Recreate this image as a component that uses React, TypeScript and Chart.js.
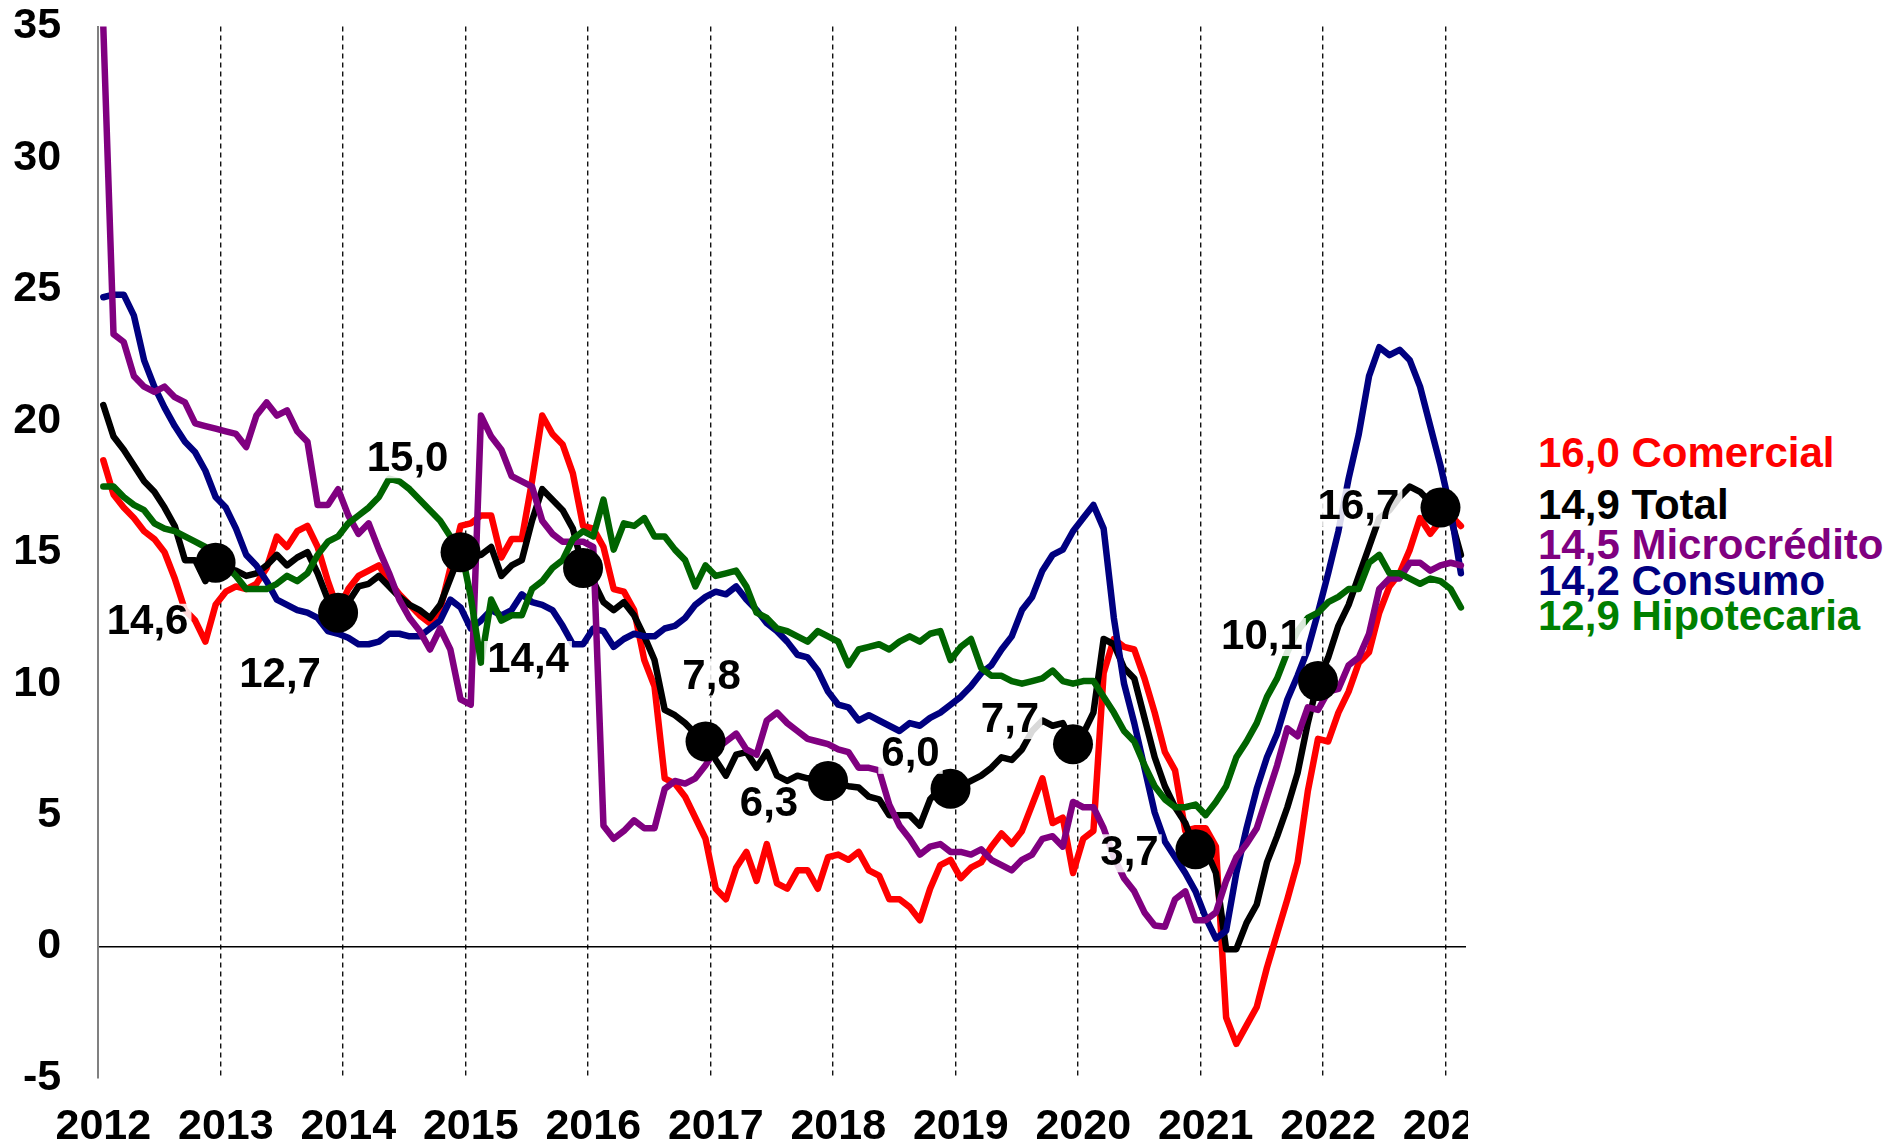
import React, { useEffect, useRef } from "react";
import { Chart, registerables } from "chart.js";

Chart.register(...registerables);

// ---- data -------------------------------------------------------------
const years = [2012, 2013, 2014, 2015, 2016, 2017, 2018, 2019, 2020, 2021, 2022, 2023];
const monthsShown = 134; // Jan 2012 .. Feb 2023

const categories: string[] = [];
years.forEach((y) => {
  for (let m = 1; m <= 12; m++) categories.push(`${y}-${m < 10 ? "0" + m : m}`);
});
categories.length = monthsShown;

const yTicks = [-5, 0, 5, 10, 15, 20, 25, 30, 35];

const comercial = [
  18.5, 17.2, 16.7, 16.3, 15.8, 15.5, 15.0, 14.0, 12.8, 12.4, 11.6, 13.0,
  13.5, 13.7, 13.6, 13.8, 14.4, 15.6, 15.2, 15.8, 16.0, 15.2, 13.9, 12.8,
  13.6, 14.1, 14.3, 14.5, 13.9, 13.4, 13.0, 12.6, 12.3, 12.8, 14.4, 16.0,
  16.1, 16.4, 16.4, 14.8, 15.5, 15.5, 17.7, 20.2, 19.5, 19.1, 18.0, 16.0,
  15.9, 15.2, 13.6, 13.5, 12.8, 10.9, 9.9, 6.4, 6.2, 5.7, 4.9, 4.1,
  2.2, 1.8, 3.0, 3.6, 2.5, 3.9, 2.4, 2.2, 2.9, 2.9, 2.2, 3.4,
  3.5, 3.3, 3.6, 2.9, 2.7, 1.8, 1.8, 1.5, 1.0, 2.2, 3.1, 3.3,
  2.6, 3.0, 3.2, 3.8, 4.3, 3.9, 4.4, 5.4, 6.4, 4.7, 4.9, 2.8,
  4.1, 4.4, 10.4, 11.7, 11.4, 11.3, 10.2, 8.9, 7.4, 6.7, 4.4, 4.5,
  4.5, 3.8, -2.7, -3.7, -3.0, -2.3, -0.8, 0.5, 1.8, 3.2, 5.9, 7.9,
  7.8, 8.9, 9.7, 10.8, 11.2, 12.7, 13.7, 14.2, 15.1, 16.3, 15.7, 16.2,
  16.4, 16.0,
];

const total = [
  20.6, 19.4, 18.9, 18.3, 17.7, 17.3, 16.7, 16.0, 14.7, 14.7, 13.9, 14.6,
  14.4, 14.3, 14.1, 14.2, 14.5, 14.9, 14.5, 14.8, 15.0, 14.2, 13.2, 12.7,
  13.1, 13.7, 13.8, 14.1, 13.7, 13.3, 13.0, 12.8, 12.5, 13.0, 14.0, 15.0,
  14.8, 14.9, 15.2, 14.1, 14.5, 14.7, 16.2, 17.4, 17.0, 16.6, 15.9, 14.4,
  13.9, 13.1, 12.8, 13.1, 12.6, 11.8, 10.9, 9.0, 8.8, 8.5, 8.1, 7.8,
  7.1, 6.5, 7.3, 7.4, 6.8, 7.4, 6.5, 6.3, 6.5, 6.4, 6.4, 6.3,
  6.2, 6.1, 6.05, 5.7, 5.6, 5.0, 5.0, 5.0, 4.6, 5.6, 6.0, 6.0,
  6.1, 6.3, 6.5, 6.8, 7.2, 7.1, 7.5, 8.2, 8.6, 8.4, 8.5, 7.7,
  8.1, 8.9, 11.7, 11.5, 10.6, 10.2, 8.7, 7.2, 6.1, 5.3, 4.7, 3.7,
  3.7, 2.8, -0.1, -0.1, 0.9, 1.6, 3.2, 4.2, 5.3, 6.6, 8.5, 10.1,
  11.0, 12.2, 13.0, 14.1, 15.2, 16.3, 16.6, 17.1, 17.5, 17.3, 16.9, 16.7,
  16.3, 14.9,
];

const microcredito = [
  35.0, 23.3, 23.0, 21.7, 21.3, 21.1, 21.3, 20.9, 20.7, 19.9, 19.8, 19.7,
  19.6, 19.5, 19.0, 20.2, 20.7, 20.2, 20.4, 19.6, 19.2, 16.8, 16.8, 17.4,
  16.4, 15.7, 16.1, 15.1, 14.2, 13.2, 12.5, 12.0, 11.3, 12.1, 11.3, 9.4,
  9.2, 20.2, 19.4, 18.9, 17.9, 17.7, 17.5, 16.2, 15.7, 15.4, 15.4, 15.4,
  15.2, 4.6, 4.1, 4.4, 4.8, 4.5, 4.5, 6.0, 6.3, 6.2, 6.4, 6.9,
  7.5, 7.8, 8.1, 7.5, 7.3, 8.6, 8.9, 8.5, 8.2, 7.9, 7.8, 7.7,
  7.5, 7.4, 6.8, 6.8, 6.7, 5.4, 4.6, 4.1, 3.5, 3.8, 3.9, 3.6,
  3.6, 3.5, 3.7, 3.3, 3.1, 2.9, 3.3, 3.5, 4.1, 4.2, 3.8, 5.5,
  5.3, 5.3, 4.5, 3.4, 2.6, 2.1, 1.3, 0.8, 0.75, 1.8, 2.1, 1.0,
  1.0, 1.3, 2.5, 3.4, 3.9, 4.5, 5.7, 6.9, 8.3, 8.0, 9.1, 9.0,
  9.7, 9.8, 10.7, 11.0, 11.9, 13.6, 14.0, 14.0, 14.6, 14.6, 14.3, 14.5,
  14.6, 14.5,
];

const consumo = [
  24.7, 24.8, 24.8, 24.0, 22.3, 21.3, 20.5, 19.8, 19.2, 18.8, 18.1, 17.1,
  16.7, 15.9, 14.9, 14.5, 13.9, 13.2, 13.0, 12.8, 12.7, 12.5, 12.0, 11.9,
  11.75, 11.5, 11.5, 11.6, 11.9, 11.9, 11.8, 11.8, 12.1, 12.4, 13.2, 12.9,
  12.1, 12.4, 12.8, 12.6, 12.8, 13.4, 13.1, 13.0, 12.8, 12.2, 11.5, 11.5,
  12.1, 12.0, 11.4, 11.7, 11.9, 11.8, 11.8, 12.1, 12.2, 12.5, 13.0, 13.3,
  13.5, 13.4, 13.7, 13.2, 12.8, 12.3, 12.0, 11.6, 11.1, 11.0, 10.5, 9.7,
  9.2, 9.1, 8.6, 8.8, 8.6, 8.4, 8.2, 8.5, 8.4, 8.7, 8.9, 9.2,
  9.5, 9.9, 10.4, 10.7, 11.3, 11.8, 12.8, 13.3, 14.3, 14.9, 15.1, 15.8,
  16.3, 16.8, 15.9, 12.5, 10.0, 8.5, 6.8, 5.1, 4.0, 3.4, 2.8, 2.1,
  1.1, 0.3, 0.6, 2.8, 4.5, 6.0, 7.2, 8.1, 9.4, 10.3, 11.3, 12.7,
  14.2, 15.8, 17.8, 19.5, 21.7, 22.8, 22.5, 22.7, 22.3, 21.3, 19.8, 18.3,
  16.6, 14.2,
];

const hipotecaria = [
  17.5, 17.5, 17.1, 16.8, 16.6, 16.1, 15.9, 15.8, 15.6, 15.4, 15.2, 14.9,
  14.5, 14.1, 13.6, 13.6, 13.6, 13.8, 14.1, 13.9, 14.2, 14.9, 15.4, 15.6,
  16.1, 16.4, 16.7, 17.1, 17.8, 17.7, 17.4, 17.0, 16.6, 16.2, 15.6, 15.2,
  13.3, 10.8, 13.2, 12.4, 12.6, 12.6, 13.6, 13.9, 14.4, 14.7, 15.5, 15.8,
  15.6, 17.0, 15.1, 16.1, 16.0, 16.3, 15.6, 15.6, 15.1, 14.7, 13.7, 14.5,
  14.1, 14.2, 14.3, 13.7, 12.7, 12.5, 12.1, 12.0, 11.8, 11.6, 12.0, 11.8,
  11.6, 10.7, 11.3, 11.4, 11.5, 11.3, 11.6, 11.8, 11.6, 11.9, 12.0, 10.9,
  11.4, 11.7, 10.6, 10.3, 10.3, 10.1, 10.0, 10.1, 10.2, 10.5, 10.1, 10.0,
  10.1, 10.1, 9.5, 8.9, 8.2, 7.8, 6.9, 6.1, 5.6, 5.3, 5.3, 5.4,
  5.0, 5.5, 6.1, 7.2, 7.8, 8.5, 9.5, 10.2, 11.2, 12.0, 12.5, 12.7,
  13.1, 13.3, 13.6, 13.6, 14.6, 14.9, 14.2, 14.2, 14.0, 13.8, 14.0, 13.9,
  13.6, 12.9,
];

// December of each year: marked points on "Total"
const markerMonths = [11, 23, 35, 47, 59, 71, 83, 95, 107, 119, 131];
// label placement relative to the marker (px)
const markerLabelOffsets = [
  [-68, 60], [-58, 63], [-53, -93], [-55, 92], [6, -64], [-59, 23],
  [-40, -34], [-63, -24], [-66, 4], [-56, -44], [-82, 0],
];

const seriesNames = ["Comercial", "Total", "Microcrédito", "Consumo", "Hipotecaria"];
const seriesData = [comercial, total, microcredito, consumo, hipotecaria];
const lineColors = ["#FF0000", "#000000", "#800080", "#000080", "#006400"];
const legendColors = ["#FF0000", "#000000", "#800080", "#000080", "#008000"];
const drawOrder = [5, 4, 2, 3, 1]; // lower = on top
const legendTops = [432, 484, 524, 560, 595];

const FONT = '"Liberation Sans", Arial, Helvetica, sans-serif';

const fmt = (v: number) => v.toFixed(1).replace(".", ",");

const markerLabelPlugin = {
  id: "markerLabels",
  afterDatasetsDraw(chart: any) {
    const ctx = chart.ctx;
    const xs = chart.scales.x;
    const ys = chart.scales.y;
    ctx.save();
    ctx.font = `bold 42px ${FONT}`;
    ctx.textAlign = "center";
    ctx.textBaseline = "middle";
    markerMonths.forEach((m, k) => {
      const v = total[m];
      const text = fmt(v);
      const x = xs.getPixelForValue(m) + markerLabelOffsets[k][0];
      const y = ys.getPixelForValue(v) + markerLabelOffsets[k][1];
      const w = ctx.measureText(text).width;
      ctx.fillStyle = "rgba(255,255,255,0.85)";
      ctx.fillRect(x - w / 2 - 3, y - 19, w + 6, 38);
      ctx.fillStyle = "#000";
      ctx.fillText(text, x, y);
    });
    ctx.restore();
  },
};

export default function App() {
  const canvasRef = useRef<HTMLCanvasElement | null>(null);

  useEffect(() => {
    if (!canvasRef.current) return;
    const datasets: any[] = seriesData.map((d, k) => ({
      label: seriesNames[k],
      data: d,
      borderColor: lineColors[k],
      backgroundColor: lineColors[k],
      borderWidth: 6.5,
      pointRadius: 0,
      pointHoverRadius: 0,
      tension: 0,
      fill: false,
      borderJoinStyle: "round",
      borderCapStyle: "round",
      order: drawOrder[k],
    }));
    datasets.push({
      label: "markers",
      data: total.map((v, i) => (markerMonths.includes(i) ? v : null)),
      showLine: false,
      pointRadius: 20,
      pointHoverRadius: 20,
      pointBackgroundColor: "#000",
      pointBorderWidth: 0,
      borderColor: "#000",
      order: 0,
    });

    const chart = new Chart(canvasRef.current, {
      type: "line",
      data: { labels: categories, datasets },
      options: {
        responsive: false,
        animation: false,
        devicePixelRatio: 1,
        layout: { autoPadding: false, padding: { top: 26.5, right: 2, bottom: 0, left: 0 } },
        plugins: { legend: { display: false }, tooltip: { enabled: false } },
        events: [],
        scales: {
          x: {
            type: "category",
            offset: true,
            grid: {
              offset: true,
              drawTicks: false,
              lineWidth: 1.4,
              color: (c: any) => (c.index > 0 && c.index % 12 === 0 ? "#111" : "rgba(0,0,0,0)"),
            },
            border: { display: false, dash: [5, 4] },
            ticks: {
              autoSkip: false,
              maxRotation: 0,
              minRotation: 0,
              padding: 23,
              color: "#000",
              font: { family: FONT, size: 43, weight: "bold" },
              callback: (_v: any, i: number) =>
                categories[i] && categories[i].endsWith("-01") ? categories[i].slice(0, 4) : "",
            },
            afterFit: (s: any) => {
              s.height = 68;
              s.paddingLeft = 0;
              s.paddingRight = 0;
            },
          },
          y: {
            min: yTicks[0],
            max: yTicks[yTicks.length - 1],
            afterBuildTicks: (s: any) => {
              s.ticks = yTicks.map((v) => ({ value: v }));
            },
            grid: {
              drawTicks: false,
              lineWidth: 1.5,
              color: (c: any) => (c.tick && c.tick.value === 0 ? "#000" : "rgba(0,0,0,0)"),
            },
            border: { display: true, color: "#808080", width: 2 },
            ticks: {
              padding: 37,
              color: "#000",
              font: { family: FONT, size: 43, weight: "bold" },
              callback: (v: any) => String(v),
            },
            afterFit: (s: any) => {
              s.width = 98.2;
              s.paddingTop = 0;
              s.paddingBottom = 0;
            },
          },
        },
      },
      plugins: [markerLabelPlugin],
    });
    return () => chart.destroy();
  }, []);

  return (
    <div style={{ position: "absolute", left: 0, top: 0, width: 1891, height: 1146, background: "#fff", overflow: "hidden" }}>
      <canvas ref={canvasRef} width={1468} height={1146} style={{ position: "absolute", left: 0, top: 0, display: "block" }} />
      {seriesNames.map((name, k) => (
        <div
          key={name}
          style={{
            position: "absolute",
            left: 1538,
            top: legendTops[k],
            font: `bold 42px ${FONT}`,
            lineHeight: "42px",
            color: legendColors[k],
            whiteSpace: "nowrap",
          }}
        >
          {`${fmt(seriesData[k][seriesData[k].length - 1])} ${name}`}
        </div>
      ))}
    </div>
  );
}
